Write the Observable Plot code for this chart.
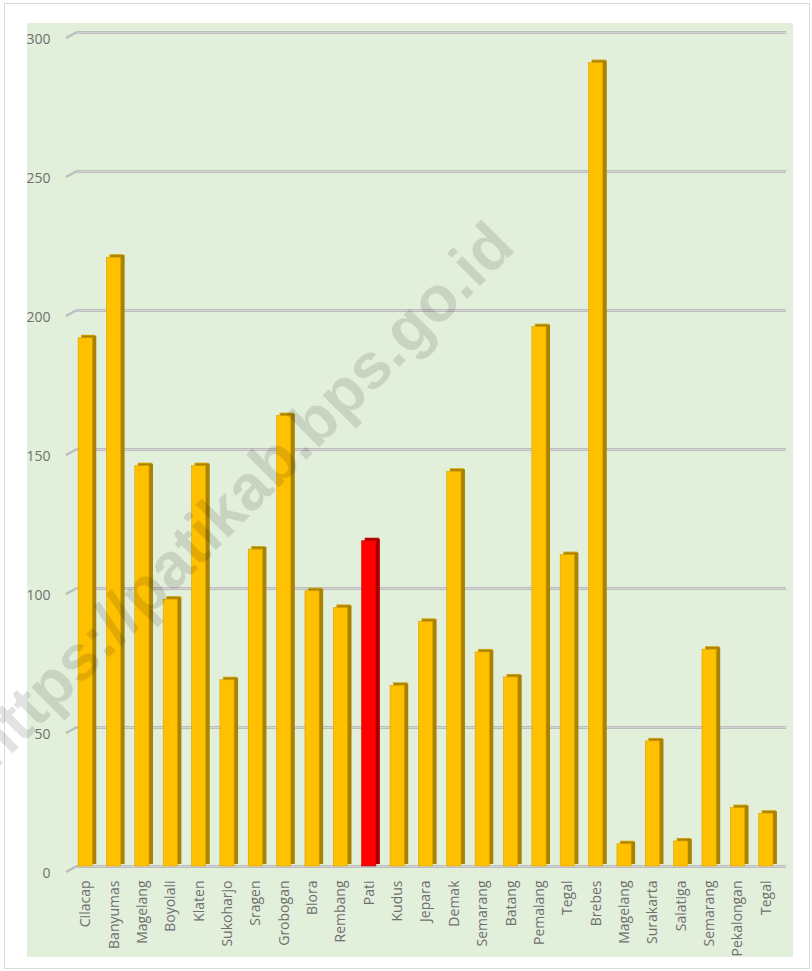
<!DOCTYPE html>
<html>
<head>
<meta charset="utf-8">
<script src="https://cdn.jsdelivr.net/npm/d3@7"></script>
<script src="https://cdn.jsdelivr.net/npm/@observablehq/plot@0.6"></script>
<style>
  html, body { margin: 0; padding: 0; background: #fff; }
  #wrap { position: relative; width: 812px; height: 971px; overflow: hidden; }
  #border { position: absolute; left: 4px; top: 3px; width: 804px; height: 964px; border: 1px solid #d9d9d9; }
  #green { position: absolute; left: 27px; top: 23px; width: 766px; height: 934px; background: #e2efda; }
  #chart { position: absolute; left: 0; top: 0; }
  #wm { position: absolute; left: 0; top: 0; width: 812px; height: 971px; pointer-events: none; overflow: hidden; }
  #wm span {
    position: absolute; left: 240px; top: 495px;
    transform: translate(-50%, -50%) rotate(-45deg);
    font-family: "Liberation Sans", Arial, sans-serif; font-weight: bold;
    font-size: 64px; color: #000; opacity: 0.11; white-space: nowrap;
  }
</style>
</head>
<body>
<div id="wrap">
  <div id="border"></div>
  <div id="green"></div>
  <div id="chart"></div>
  <div id="wm"><span>https://patikab.bps.go.id</span></div>
</div>
<script>
const regions = ["Cilacap","Banyumas","Magelang","Boyolali","Klaten","Sukoharjo","Sragen","Grobogan","Blora","Rembang","Pati","Kudus","Jepara","Demak","Semarang","Batang","Pemalang","Tegal","Brebes","Magelang","Surakarta","Salatiga","Semarang","Pekalongan","Tegal"];
const values = [190, 219, 144, 96, 144, 67, 114, 162, 99, 93, 117, 65, 88, 142, 77, 68, 194, 112, 289, 8, 45, 9, 78, 21, 19];
const yTicks = [0, 50, 100, 150, 200, 250, 300];
const highlightIndex = 10; // Pati

const data = regions.map((name, i) => ({i, name, v: values[i]}));
const frontColor = d => d.i === highlightIndex ? "#ff0000" : "#ffc000";
const sideColor = d => d.i === highlightIndex ? "#a80000" : "#a88300";
const capColor = d => d.i === highlightIndex ? "#cc0000" : "#d2a200";

const chart = Plot.plot({
  width: 812,
  height: 971,
  marginTop: 32,
  marginBottom: 105,
  marginLeft: 71,
  marginRight: 32,
  style: {background: "transparent", fontFamily: "'Open Sans', sans-serif", fontSize: "14px", color: "#6f6f6f"},
  x: {type: "band", domain: d3.range(regions.length), paddingInner: 0.5, paddingOuter: 0.25, round: false},
  y: {domain: [0, 300]},
  marks: [
    Plot.ruleY(yTicks, {stroke: "#bdbdbd", strokeWidth: 3, dx: 6}),
    Plot.ruleY(yTicks, {stroke: "#d6d6d6", strokeWidth: 1, dx: 6}),
    Plot.barY(data, {x: "i", y: "v", fill: capColor, dx: 3, dy: -3}),
    Plot.barY(data, {x: "i", y: "v", fill: sideColor, dx: 4, dy: -2}),
    Plot.barY(data, {x: "i", y: "v", fill: frontColor, stroke: d => d.i === highlightIndex ? "#c00000" : "#d9a300", strokeWidth: 0.6}),
    Plot.axisY({ticks: yTicks, tickSize: 0, tickPadding: 21, dy: 7, fontSize: 14, fill: "#6f6f6f", label: null}),
    Plot.axisX({tickSize: 0, tickRotate: -90, tickPadding: 14, fontSize: 14, fill: "#6f6f6f", label: null, tickFormat: i => regions[i]})
  ]
});
document.getElementById("chart").appendChild(chart);

// small diagonal depth ticks on the left of each gridline (from the y scale)
const sy = chart.scale("y");
const svg = d3.select(chart);
svg.append("g").selectAll("path").data(yTicks).join("path")
  .attr("d", t => { const y = sy.apply(t); return `M66,${y + 6}L77,${y}`; })
  .attr("stroke", "#bdbdbd").attr("stroke-width", 2.5).attr("fill", "none");
</script>
</body>
</html>
